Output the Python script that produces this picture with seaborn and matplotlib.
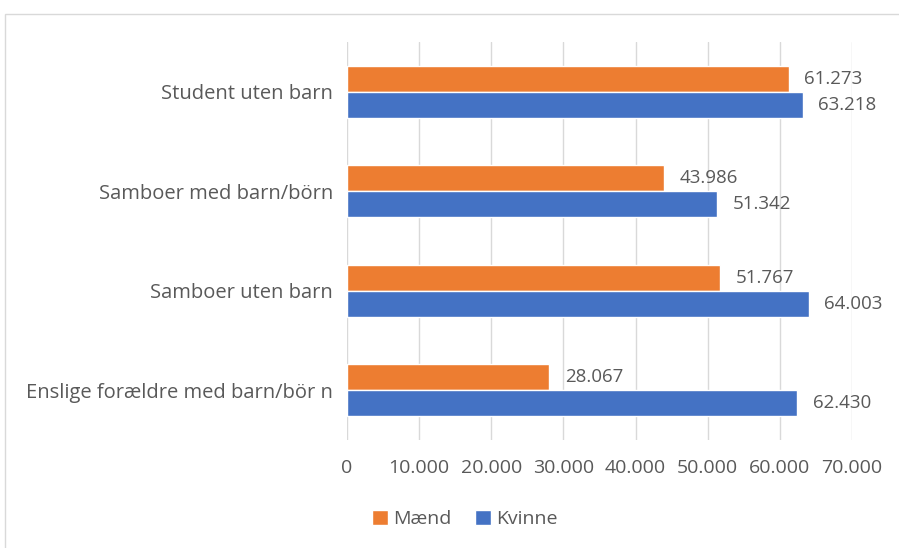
import matplotlib

matplotlib.use("Agg")
import matplotlib.pyplot as plt
import matplotlib.ticker as mticker
import pandas as pd
import seaborn as sns
from matplotlib.patches import Rectangle


categories = [
    "Student uten barn",
    "Samboer med barn/börn",
    "Samboer uten barn",
    "Enslige forældre med barn/bör n",
]
maend = [61273, 43986, 51767, 28067]
kvinne = [63218, 51342, 64003, 62430]
series_names = ["Mænd", "Kvinne"]
colors = ["#ed7d31", "#4472c4"]
x_ticks = [0, 10000, 20000, 30000, 40000, 50000, 60000, 70000]

text_color = "#595959"


def fmt_thousands(v):
    return f"{v:,.0f}".replace(",", ".")


def build_frame() -> pd.DataFrame:
    rows = []
    for cat, m, k in zip(categories, maend, kvinne):
        rows.append((cat, series_names[0], m))
        rows.append((cat, series_names[1], k))
    return pd.DataFrame(rows, columns=["kategori", "kjonn", "verdi"])


def plot_chart(df: pd.DataFrame) -> None:
    sns.set_theme(style="white")
    plt.rcParams["font.family"] = ["Open Sans", "DejaVu Sans"]

    fig = plt.figure(figsize=(8.99, 5.48), dpi=100)
    ax = fig.add_axes([347 / 899, 1 - 440 / 548, (852 - 347) / 899, 398 / 548])

    sns.barplot(
        data=df,
        y="kategori",
        x="verdi",
        hue="kjonn",
        hue_order=series_names,
        order=categories,
        palette=colors,
        orient="y",
        width=0.52,
        ax=ax,
        saturation=1,
        legend=True,
    )

    ax.set_xlim(0, 70000)
    ax.set_xticks(x_ticks)
    ax.xaxis.set_major_formatter(mticker.FuncFormatter(lambda v, _: fmt_thousands(v)))
    ax.grid(axis="x", color="#d9d9d9", linewidth=1)
    ax.set_axisbelow(True)
    for side in ["top", "right", "bottom", "left"]:
        ax.spines[side].set_visible(False)
    ax.set_xlabel("")
    ax.set_ylabel("")
    ax.tick_params(axis="x", colors=text_color, labelsize=14, pad=14, length=0)
    ax.tick_params(axis="y", colors=text_color, labelsize=14.5, pad=10, length=0)

    for container in ax.containers:
        ax.bar_label(
            container,
            labels=[fmt_thousands(v) for v in container.datavalues],
            padding=11,
            color=text_color,
            fontsize=13.5,
        )

    handles, labels = ax.get_legend_handles_labels()
    ax.legend_.remove()
    fig.legend(
        handles,
        labels,
        loc="center",
        bbox_to_anchor=(465 / 899, 1 - 519 / 548),
        ncol=2,
        frameon=False,
        handlelength=0.8,
        handleheight=0.8,
        handletextpad=0.3,
        columnspacing=1.2,
        labelcolor=text_color,
        fontsize=14,
    )

    fig.patches.append(
        Rectangle(
            (5 / 899, -0.1),
            1.2,
            1 - 14 / 548 + 0.1,
            transform=fig.transFigure,
            fill=False,
            edgecolor="#d9d9d9",
            linewidth=1,
        )
    )

    fig.savefig("out.png", dpi=100)


if __name__ == "__main__":
    plot_chart(build_frame())
